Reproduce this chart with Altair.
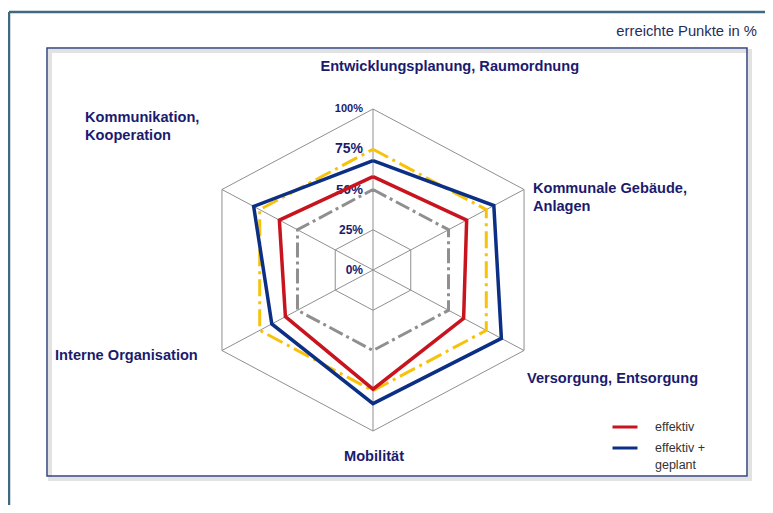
import altair as alt
import pandas as pd
import numpy as np

# ---------------- data ----------------
categories = ["Entwicklungsplanung, Raumordnung", "Kommunale Gebäude, Anlagen",
              "Versorgung, Entsorgung", "Mobilität", "Interne Organisation",
              "Kommunikation, Kooperation"]
effektiv = [58, 62, 60, 74, 58, 62]
effektiv_geplant = [68, 80, 85, 83, 67, 79]
ref_50 = [50, 50, 50, 50, 50, 50]
ref_75 = [75, 75, 75, 75, 75, 75]
ticks = [0, 25, 50, 75, 100]
tick_labels = ["0%", "25%", "50%", "75%", "100%"]
series_names = ["effektiv", "effektiv + geplant"]

# ---------------- layout / style ----------------
label_lines = [["Entwicklungsplanung, Raumordnung"], ["Kommunale Gebäude,", "Anlagen"],
               ["Versorgung, Entsorgung"], ["Mobilität"], ["Interne Organisation"],
               ["Kommunikation,", "Kooperation"]]
label_anchor = [(0.44, 1.238, "center"), (0.917, 0.481, "left"), (0.883, -0.699, "left"),
                (0.006, -1.189, "center"), (-1.823, -0.556, "left"), (-1.651, 0.922, "left")]
tick_font_sizes = [12, 12, 13.5, 14, 11]

FONT = "Arial, Liberation Sans"
NAVY = "#1b1b6e"
RED = "#c8141e"
BLUE = "#0c2f86"
YELLOW = "#f7c20a"
GRAY = "#8f8f8f"

W, H = 757, 497
PX_X, PX_Y = 174.4, 161.0
CX, CY = 365, 262
xs = alt.Scale(domain=[-CX / PX_X, (W - CX) / PX_X], nice=False, zero=False)
ys = alt.Scale(domain=[-(H - CY) / PX_Y, CY / PX_Y], nice=False, zero=False)


def polygon(vals, name):
    rows = []
    n = len(vals)
    for i in range(n + 1):
        v = vals[i % n]
        a = np.deg2rad(360.0 / n * (i % n))
        rows.append(dict(series=name, order=i, x=v / 100 * np.sin(a), y=v / 100 * np.cos(a)))
    return pd.DataFrame(rows)


X = alt.X("x:Q", scale=xs, axis=None)
Y = alt.Y("y:Q", scale=ys, axis=None)

one = pd.DataFrame({"a": [0]})

# frames
outer_top = alt.Chart(one).mark_rule(color="#3f6a80", strokeWidth=2.5).encode(
    x=alt.value(1), x2=alt.value(W), y=alt.value(4))
outer_left = alt.Chart(one).mark_rule(color="#3f6a80", strokeWidth=2.5).encode(
    x=alt.value(1), y=alt.value(4), y2=alt.value(H))
shadow = alt.Chart(one).mark_rect(fill=None, stroke="#e2e2e2", strokeWidth=4).encode(
    x=alt.value(42), x2=alt.value(742), y=alt.value(43), y2=alt.value(471))
inner_box = alt.Chart(one).mark_rect(fill=None, stroke="#34447f", strokeWidth=1.5).encode(
    x=alt.value(39), x2=alt.value(739), y=alt.value(40), y2=alt.value(468))

# grid
grid_df = pd.concat([polygon([100] * 6, "g100"), polygon([25] * 6, "g25")])
grid = alt.Chart(grid_df).mark_line(color=GRAY, strokeWidth=1).encode(
    x=X, y=Y, order="order:Q", detail="series:N")
spk = polygon([100] * 6, "s").iloc[:6].copy()
spk["x0"] = 0.0
spk["y0"] = 0.0
spokes = alt.Chart(spk).mark_rule(color=GRAY, strokeWidth=1).encode(
    x=alt.X("x0:Q", scale=xs, axis=None), y=alt.Y("y0:Q", scale=ys, axis=None),
    x2="x:Q", y2="y:Q")

# tick labels
tick_df = pd.DataFrame({"x": [0.0] * len(ticks), "y": [t / 100 for t in ticks],
                        "label": tick_labels, "fs": tick_font_sizes})
tick_text = alt.Chart(tick_df).mark_text(
    align="right", baseline="middle", dx=-10, fontWeight="bold", color=NAVY, font=FONT).encode(
    x=X, y=Y, text="label:N", size=alt.Size("fs:Q", scale=None, legend=None))

# reference polygons
gray_line = alt.Chart(polygon(ref_50, "r50")).mark_line(
    color=GRAY, strokeWidth=3, strokeDash=[15, 4, 3, 4], strokeJoin="miter").encode(
    x=X, y=Y, order="order:Q")
yellow_line = alt.Chart(polygon(ref_75, "r75")).mark_line(
    color=YELLOW, strokeWidth=3, strokeDash=[17, 5, 3, 5], strokeJoin="miter").encode(
    x=X, y=Y, order="order:Q")

# series
ser_df = pd.concat([polygon(effektiv, series_names[0]), polygon(effektiv_geplant, series_names[1])])
series = alt.Chart(ser_df).mark_line(strokeWidth=3.5, strokeJoin="miter").encode(
    x=X, y=Y, order="order:Q",
    color=alt.Color("series:N", scale=alt.Scale(domain=series_names, range=[RED, BLUE]),
                    legend=alt.Legend(
                        title=None, orient="none", legendX=603, legendY=405,
                        symbolType="stroke", symbolSize=625, symbolStrokeWidth=3,
                        labelFont=FONT, labelFontSize=12.5, labelColor="#333333",
                        labelOffset=16, rowPadding=0, padding=0,
                        labelExpr="datum.label == 'effektiv + geplant' ? ['effektiv +', 'geplant'] : datum.label")))

# category labels
lab_df = pd.DataFrame({"x": [a[0] for a in label_anchor], "y": [a[1] for a in label_anchor],
                       "align": [a[2] for a in label_anchor], "text": label_lines})
lab_c = alt.Chart(lab_df).transform_filter("datum.align == 'center'").mark_text(
    align="center", baseline="alphabetic", fontWeight="bold", fontSize=14.6, color=NAVY,
    font=FONT, lineHeight=18).encode(x=X, y=Y, text="text")
lab_l = alt.Chart(lab_df).transform_filter("datum.align == 'left'").mark_text(
    align="left", baseline="alphabetic", fontWeight="bold", fontSize=14.6, color=NAVY,
    font=FONT, lineHeight=18).encode(x=X, y=Y, text="text")

unit = alt.Chart(one).mark_text(align="right", baseline="middle", fontSize=14.8,
                                color="#1f2f5a", font=FONT).encode(
    x=alt.value(749), y=alt.value(24), text=alt.value("erreichte Punkte in %"))

chart = alt.layer(outer_top, outer_left, shadow, inner_box, grid, spokes, tick_text,
                  gray_line, yellow_line, series, lab_c, lab_l, unit).properties(
    width=W, height=H, autosize="none", padding=0, background="white"
).configure(style={"guide-label": {"lineHeight": 17}}).configure_view(stroke=None)

chart.save("out.html", embed_options={"renderer": "svg", "actions": False})
